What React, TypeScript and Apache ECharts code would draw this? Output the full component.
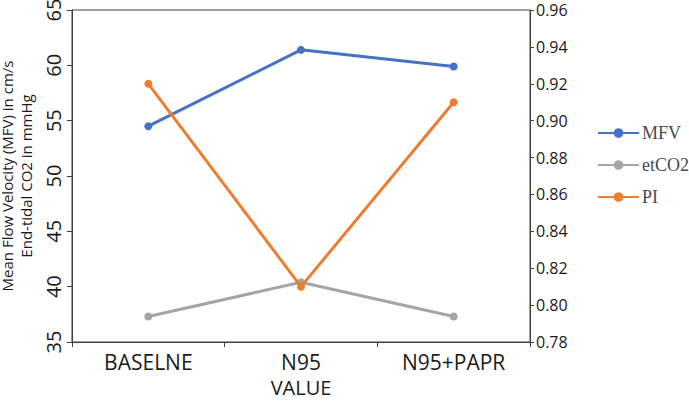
import React, { useEffect, useRef } from "react";
import * as echarts from "echarts";

const categories = ["BASELNE", "N95", "N95+PAPR"];
const mfv = [54.5, 61.4, 59.9];
const etco2 = [37.3, 40.4, 37.3];
const pi = [0.92, 0.81, 0.91];
const seriesNames = ["MFV", "etCO2", "PI"];
const leftTitle = "Mean Flow Velocity (MFV) in cm/s\nEnd-tidal CO2 in mmHg";
const xTitle = "VALUE";

export default function App() {
  const ref = useRef<HTMLDivElement>(null);
  useEffect(() => {
    if (!ref.current) return;
    const chart = echarts.init(ref.current, undefined, { renderer: "svg" });
    const font = "'Open Sans', 'DejaVu Sans', sans-serif";
    const axisColor = "#404040";
    const textColor = "#1a1a1a";
    const mk = (name: string, data: number[], color: string, yIdx: number) => ({
      name,
      type: "line",
      yAxisIndex: yIdx,
      data,
      symbol: "circle",
      symbolSize: 8,
      lineStyle: { color, width: 3 },
      itemStyle: { color },
      z: yIdx === 1 ? 3 : 2,
    });
    chart.setOption({
      animation: false,
      backgroundColor: "#ffffff",
      grid: {
        left: 72,
        right: 159,
        top: 10,
        bottom: 60,
        show: true,
        borderColor: axisColor,
        borderWidth: 1,
        containLabel: false,
        outerBoundsMode: "none",
      },
      legend: {
        orient: "vertical",
        left: 592,
        top: 119,
        itemWidth: 41,
        itemHeight: 12,
        itemGap: 14,
        itemStyle: { borderWidth: 0 },
        textStyle: {
          fontFamily: "'Liberation Serif', 'DejaVu Serif', serif",
          fontSize: 18,
          color: "#4a4a4a",
          padding: [0, 0, 0, -2],
        },
        data: seriesNames,
      },
      xAxis: {
        type: "category",
        data: categories,
        boundaryGap: true,
        name: xTitle,
        nameLocation: "middle",
        nameGap: 35,
        nameTextStyle: { fontFamily: font, fontSize: 20, color: textColor },
        axisLine: { lineStyle: { color: axisColor, width: 1 } },
        axisTick: { show: true, length: 5, lineStyle: { color: axisColor } },
        axisLabel: { fontFamily: font, fontSize: 21, color: textColor, margin: 9 },
        splitLine: { show: false },
      },
      yAxis: [
        {
          type: "value",
          min: 35,
          max: 65,
          interval: 5,
          position: "left",
          name: leftTitle,
          nameLocation: "middle",
          nameRotate: 90,
          nameGap: 28,
          nameTextStyle: { fontFamily: font, fontSize: 15, color: textColor, lineHeight: 19 },
          axisLine: { show: true, lineStyle: { color: axisColor, width: 1 } },
          axisTick: { show: true, length: 5, lineStyle: { color: axisColor } },
          axisLabel: { fontFamily: font, fontSize: 20, color: textColor, rotate: 90, margin: 9 },
          splitLine: { show: false },
        },
        {
          type: "value",
          min: 0.78,
          max: 0.96,
          interval: 0.02,
          position: "right",
          axisLine: { show: true, lineStyle: { color: axisColor, width: 1 } },
          axisTick: { show: true, length: 4, lineStyle: { color: axisColor } },
          axisLabel: {
            fontFamily: font,
            fontSize: 16,
            color: textColor,
            margin: 6,
            formatter: (v: number) => v.toFixed(2),
          },
          splitLine: { show: false },
        },
      ],
      series: [
        mk(seriesNames[0], mfv, "#4472C4", 0),
        mk(seriesNames[1], etco2, "#A5A5A5", 0),
        mk(seriesNames[2], pi, "#ED7D31", 1),
      ],
    });
    return () => chart.dispose();
  }, []);
  return <div ref={ref} style={{ width: 689, height: 402, position: "fixed", left: 0, top: 0 }} />;
}
